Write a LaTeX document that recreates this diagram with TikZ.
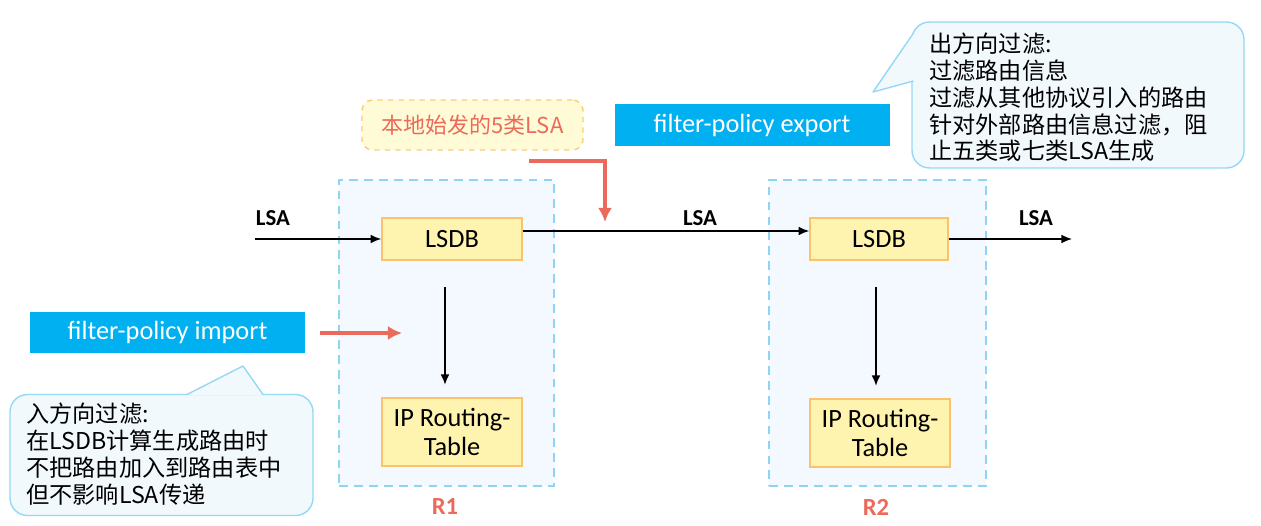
\documentclass[tikz,border=0pt]{standalone}
\usepackage{fontspec}
\usepackage{tikz}
\usetikzlibrary{arrows.meta}
\setmainfont{Carlito}
\newfontfamily\cjk{Noto Sans CJK SC}
\definecolor{framefill}{HTML}{F3F9FE}
\definecolor{framedraw}{HTML}{8DD5F4}
\definecolor{dbfill}{HTML}{FFF3B0}
\definecolor{dbdraw}{HTML}{F8C36A}
\definecolor{policyblue}{HTML}{00B0F0}
\definecolor{filterred}{HTML}{EB6A5B}
\definecolor{hintfill}{HTML}{FFFBD6}
\definecolor{hintdraw}{HTML}{F8CD78}
\definecolor{notefill}{HTML}{F2F9FD}
\definecolor{notedraw}{HTML}{94D8F4}
\tikzset{
  router/.style={draw=framedraw, fill=framefill, dashed, dash pattern=on 5pt off 3.5pt,
                 line width=0.9pt},
  dbbox/.style={draw=dbdraw, fill=dbfill, line width=0.9pt, font=\fontsize{15}{17}\selectfont,
                inner sep=0pt, align=center},
  policybox/.style={fill=policyblue, text=white, inner sep=0pt,
                    font=\fontsize{15}{17}\selectfont},
  lsalabel/.style={font=\bfseries\fontsize{13}{15}\selectfont},
  rlabel/.style={font=\bfseries\fontsize{14}{16}\selectfont, text=filterred},
  flow/.style={-{Latex[length=6pt,width=5pt]}, line width=0.9pt},
  filter/.style={-{Latex[length=8pt,width=8pt]}, filterred, line width=1.8pt},
  notebox/.style={draw=notedraw, fill=notefill, rounded corners=10pt, line width=0.8pt},
  notetext/.style={font=\cjk\fontsize{13.2}{15.2}\selectfont, align=left, inner sep=0pt},
}
\begin{document}
\begin{tikzpicture}[x=0.02cm, y=-0.02cm]
  \useasboundingbox (0,0) rectangle (1261,526);

  \node[router, minimum width=215*0.02cm, minimum height=306*0.02cm] (r1) at (446.5,333) {};
  \node[router, minimum width=217*0.02cm, minimum height=306*0.02cm] (r2) at (877.5,333) {};
  \node[rlabel] (r1name) at (445,507) {R1};
  \node[rlabel] (r2name) at (876,507) {R2};

  \node[dbbox, minimum width=140*0.02cm, minimum height=42*0.02cm] (db1) at (452,239) {LSDB};
  \node[dbbox, minimum width=138*0.02cm, minimum height=42*0.02cm] (db2) at (879,239) {LSDB};
  \node[dbbox, minimum width=140*0.02cm, minimum height=68*0.02cm] (rt1) at (452,432) {IP Routing-\\Table};
  \node[dbbox, minimum width=140*0.02cm, minimum height=68*0.02cm] (rt2) at (880,433) {IP Routing-\\Table};

  \coordinate (lsain) at (255,239);
  \coordinate (lsaout) at (1072,239);
  \node[lsalabel] (lsa1) at (273,218) {LSA};
  \node[lsalabel] (lsa2) at (700,218) {LSA};
  \node[lsalabel] (lsa3) at (1036,218) {LSA};

  \draw[flow] (lsain) -- (db1.west);
  \draw[flow] (db1.east |- 0,231) -- (db2.west |- 0,231);
  \draw[flow] (db2.east) -- (lsaout);
  \draw[flow, shorten <=15pt, shorten >=7pt] (db1.south -| 445,0) -- (rt1.north -| 445,0);
  \draw[flow, shorten <=15pt, shorten >=7pt] (db2.south -| 876,0) -- (rt2.north -| 876,0);

  \node[draw=hintdraw, fill=hintfill, dashed, rounded corners=6pt, line width=0.8pt,
        minimum width=221*0.02cm, minimum height=50*0.02cm, text=filterred,
        font=\cjk\fontsize{12.5}{15}\selectfont] (hint) at (472.5,125) {本地始发的5类LSA};
  \coordinate (hintfrom) at (529,161);
  \coordinate (hintto) at (605,222);
  \draw[filter] (hintfrom) -| (hintto);

  \node[policybox, minimum width=275*0.02cm, minimum height=42*0.02cm] (export) at (752,125) {filter-policy export};
  \node[policybox, minimum width=275*0.02cm, minimum height=41*0.02cm] (import) at (167.5,332.5) {filter-policy import};
  \coordinate (impfrom) at (320,333);
  \coordinate (impto) at (402,333);
  \draw[filter] (impfrom) -- (impto);

  \node[notebox, minimum width=332*0.02cm, minimum height=146*0.02cm] (outnote) at (1078,95) {};
  \fill[notefill] (914,33) -- (873,92) -- (914,81) -- cycle;
  \draw[notedraw, line width=0.8pt, line join=round] (913.5,33) -- (873,92) -- (913.5,81);
  \node[notetext, anchor=north west] (outtext) at (929,33)
    {出方向过滤:\\过滤路由信息\\过滤从其他协议引入的路由\\针对外部路由信息过滤，阻\\止五类或七类LSA生成};

  \node[notebox, minimum width=303*0.02cm, minimum height=121*0.02cm] (innote) at (161.5,455) {};
  \fill[notefill] (187,395) -- (243,366) -- (263,395) -- cycle;
  \draw[notedraw, line width=0.8pt, line join=round] (187,394.5) -- (243,366) -- (263,394.5);
  \node[notetext, anchor=north west] (intext) at (26,403)
    {入方向过滤:\\在LSDB计算生成路由时\\不把路由加入到路由表中\\但不影响LSA传递};
\end{tikzpicture}
\end{document}
